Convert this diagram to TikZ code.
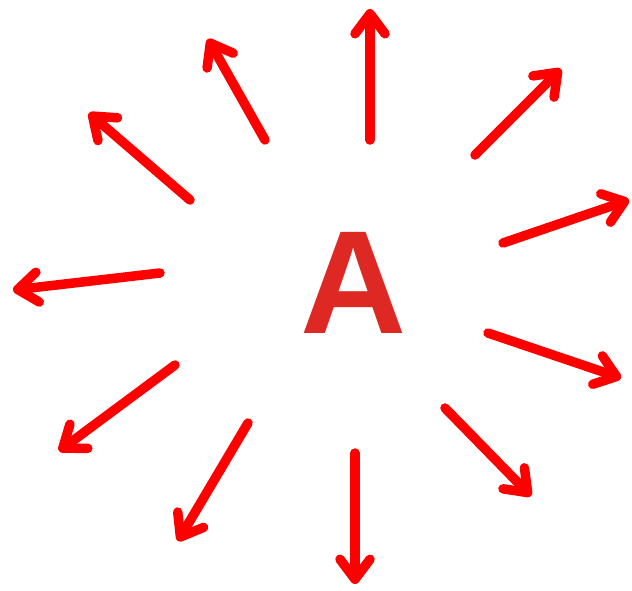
\documentclass[tikz,border=0pt]{standalone}
\usepackage{fontspec}
\setmainfont{Liberation Sans}
\usepackage{pdfrender}
\usetikzlibrary{arrows.meta}
\definecolor{arrred}{RGB}{255,0,0}
\definecolor{aedge}{RGB}{215,80,30}
\definecolor{afill}{RGB}{222,40,36}
\tikzset{
  ray/.style={draw=arrred, line width=9.5pt, line cap=round,
    -{Straight Barb[round, length=20pt, width=30pt]}},
  letter/.style={inner sep=0pt, font=\fontsize{147}{150}\selectfont\bfseries}
}
\begin{document}
\begin{tikzpicture}[x=1pt,y=-1pt]
\useasboundingbox (0,0) rectangle (632,590);
% arrow start and end coordinates
\coordinate (s1) at (370,140); \coordinate (e1) at (370,9);
\coordinate (s2) at (265,140); \coordinate (e2) at (208,39);
\coordinate (s3) at (190,200); \coordinate (e3) at (89,113);
\coordinate (s4) at (160,273); \coordinate (e4) at (13,290);
\coordinate (s5) at (175,365); \coordinate (e5) at (59,451);
\coordinate (s6) at (248,423); \coordinate (e6) at (178,541);
\coordinate (s7) at (355,453); \coordinate (e7) at (355,584);
\coordinate (s8) at (445,408); \coordinate (e8) at (531,496);
\coordinate (s9) at (488,333); \coordinate (e9) at (621,378);
\coordinate (s10) at (503,243); \coordinate (e10) at (629,200);
\coordinate (s11) at (475,155); \coordinate (e11) at (561,69);
\foreach \i in {1,...,11} \draw[ray] (s\i) -- (e\i);
% letter with outline
\node[letter, text=afill] (A) at (354,283) {\special{pdf:code 0.843 0.314 0.118 RG}\textpdfrender{TextRenderingMode=FillStroke,LineWidth=3,LineJoin=1}{A}};
\end{tikzpicture}
\end{document}
